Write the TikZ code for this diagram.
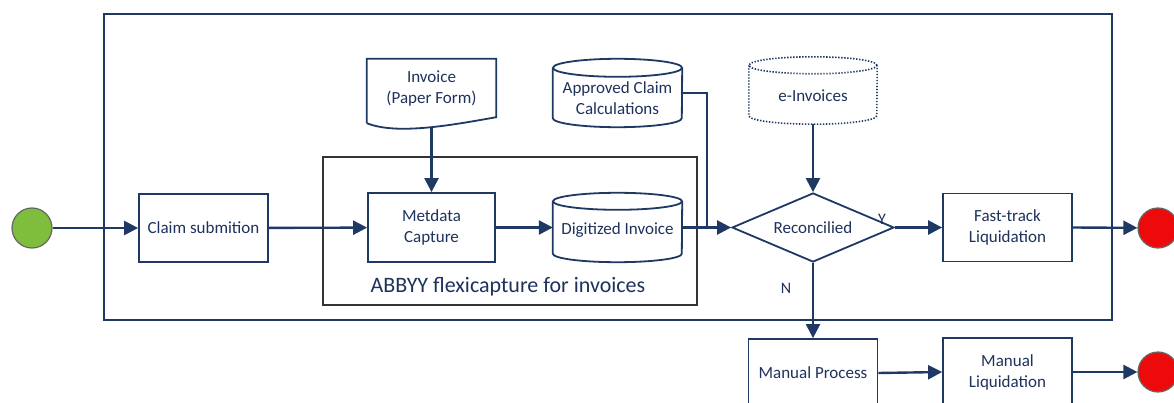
\documentclass[tikz,border=0pt]{standalone}
\usepackage{fontspec}
\setmainfont{Carlito}
\usetikzlibrary{arrows.meta,shapes.geometric,calc}
\definecolor{navy}{RGB}{31,56,100}
\definecolor{ink}{RGB}{30,50,92}
\definecolor{startgreen}{RGB}{126,190,60}
\definecolor{endred}{RGB}{238,10,10}

% cylinder outline around an (invisible) rectangular node
\newcommand\drumshape[4][]{% [style] node, x radius, y radius
  \draw[#1] ($(#2.north west)+(0,#4)$) -- ($(#2.south west)-(0,#4)$)
    arc[start angle=180, end angle=360, x radius=#3pt, y radius=#4pt]
    -- ($(#2.north east)+(0,#4)$);
  \draw[#1] ($(#2.north)+(0,#4)$) ellipse[x radius=#3pt, y radius=#4pt];
}

\begin{document}
\begin{tikzpicture}[x=1pt,y=-1pt,
  font=\fontsize{17}{21}\selectfont, text=ink,
  stepbox/.style={draw=navy, line width=1.8pt, fill=white,
    minimum width=129pt, minimum height=68pt, align=center, inner sep=0pt},
  canbox/.style={minimum width=129pt, inner sep=0pt},
  canline/.style={draw=navy, line width=1.8pt},
  dotline/.style={draw=navy, line width=1.6pt, dash pattern=on 1.4pt off 1.6pt},
  caption/.style={align=center, inner sep=0pt},
  flow/.style={draw=navy, line width=2.4pt, -{Triangle[length=14pt,width=14pt]}},
  plainline/.style={draw=navy, line width=2.4pt},
  event/.style={circle, minimum size=40pt, inner sep=0pt, draw=black!60, line width=1.2pt},
  yn/.style={font=\fontsize{16}{18}\selectfont, inner sep=0pt}]

\useasboundingbox (0,0) rectangle (1174,403);
\clip (0,0) rectangle (1174,403);
\fill[white] (0,0) rectangle (1174,403);

% frames
\draw[navy, line width=2pt] (104,14) rectangle (1112,320);
\draw[black!80, line width=1.5pt] (323,157) rectangle (697,305);
\node[inner sep=0pt, font=\fontsize{22}{26}\selectfont] (abbyy) at (508,287) {ABBYY flexicapture for invoices};

% events
\node[event, fill=startgreen] (start) at (32,228) {};
\node[event, fill=endred] (end1) at (1158,228) {};
\node[event, fill=endred] (end2) at (1158,372) {};

% tasks
\node[stepbox] (claim) at (203.5,228) {Claim submition};
\node[stepbox, minimum width=127pt, minimum height=69pt] (meta) at (431.5,227.5) {Metdata\\Capture};
\node[stepbox] (fast) at (1007.5,227.5) {Fast-track\\Liquidation};
\node[stepbox] (man) at (813,373) {Manual Process};
\node[stepbox] (mliq) at (1007.5,372) {Manual\\Liquidation};

% decision
\node[diamond, draw=navy, line width=1.8pt, fill=white, minimum width=162pt,
      minimum height=69pt, inner sep=0pt] (rec) at (813,227.5) {};
\node[caption] (rectext) at (813,228) {Reconcilied};
\node[yn] (ylab) at (882,219) {Y};
\node[yn] (nlab) at (786,288) {N};

% data stores
\node[canbox, minimum height=69pt] (digi) at (617.5,227.5) {};
\node[caption] (digitext) at (617.5,230.5) {Digitized Invoice};
\drumshape[canline]{digi}{64.5}{8.5}

\node[canbox, minimum height=68pt] (appr) at (617.5,93) {};
\node[caption] (apprtext) at (617.5,98) {Approved Claim\\Calculations};
\drumshape[canline]{appr}{64.5}{9}

\node[canbox, minimum width=128pt, minimum height=67pt] (einv) at (813,90.5) {};
\node[caption] (einvtext) at (813,96) {e-Invoices};
\drumshape[dotline]{einv}{64}{8.5}

% paper document
\node[minimum width=129pt, minimum height=64pt, inner sep=0pt] (inv) at (431.5,91) {};
\node[caption] (invtext) at (431.5,88.5) {Invoice\\(Paper Form)};
\draw[canline, line join=miter] (inv.south west) -- (inv.north west) -- (inv.north east)
  -- ($(inv.south east)+(0,-6)$)
  .. controls ($(inv.south east)+(-45,2)$) and ($(inv.south west)+(30,12)$) .. (inv.south west);

% connectors
\coordinate (join) at (707,227.5);
\draw[flow] (start) -- (claim);
\draw[flow] (claim) -- (meta);
\draw[flow] (meta) -- (digi.west);
\draw[flow] (digi.east) -- (rec.west);
\draw[plainline] (appr.east) -| (join);
\draw[flow] ($(inv.south)+(0,4)$) -- (meta.north);
\draw[flow] (einv.south) -- (rec.north);
\draw[flow] (rec.east) -- (fast.west);
\draw[flow] (fast.east) -- (end1);
\draw[flow] (rec.south) -- (man.north);
\draw[flow] (man.east) -- (mliq.west);
\draw[flow] (mliq.east) -- (end2);
\end{tikzpicture}
\end{document}
